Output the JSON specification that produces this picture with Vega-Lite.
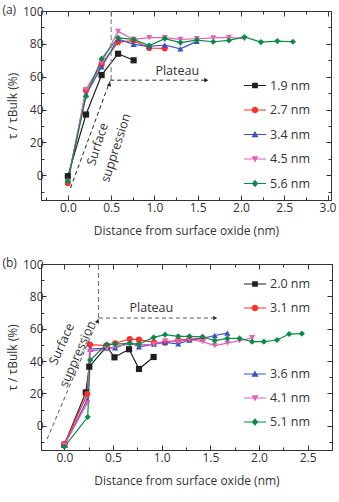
{
  "$schema": "https://vega.github.io/schema/vega-lite/v6.json",
  "padding": {"left": 1, "top": 3, "right": 0, "bottom": 2},
  "spacing": 19,
  "config": {
    "font": "Open Sans",
    "view": {"stroke": "#333333", "strokeWidth": 1},
    "axis": {"labelFont": "Open Sans", "labelFontSize": 12, "labelColor": "#333333", "titleFont": "Open Sans", "titleFontSize": 12, "titleFontWeight": "normal", "titleColor": "#333333", "domainColor": "#333333", "tickColor": "#333333", "grid": false, "labelOverlap": false, "labelFlush": false},
    "legend": {"labelFont": "Open Sans", "labelFontSize": 12.5, "labelColor": "#333333"},
    "title": {"font": "Open Sans", "fontSize": 12, "fontWeight": "normal", "color": "#333333"},
    "text": {"font": "Open Sans", "fontSize": 12.5, "color": "#333333"}
  },
  "datasets": {
    "a": [
      {"series": "1.9 nm", "x": 0, "y": -0.5}, {"series": "1.9 nm", "x": 0.21, "y": 37}, {"series": "1.9 nm", "x": 0.39, "y": 61}, {"series": "1.9 nm", "x": 0.58, "y": 74}, {"series": "1.9 nm", "x": 0.76, "y": 70},
      {"series": "2.7 nm", "x": 0, "y": -4.7}, {"series": "2.7 nm", "x": 0.21, "y": 51.8}, {"series": "2.7 nm", "x": 0.39, "y": 67.5}, {"series": "2.7 nm", "x": 0.58, "y": 81.1}, {"series": "2.7 nm", "x": 0.76, "y": 82}, {"series": "2.7 nm", "x": 0.94, "y": 77.5}, {"series": "2.7 nm", "x": 1.12, "y": 77.3},
      {"series": "3.4 nm", "x": 0, "y": -2.6}, {"series": "3.4 nm", "x": 0.21, "y": 49.2}, {"series": "3.4 nm", "x": 0.39, "y": 66}, {"series": "3.4 nm", "x": 0.58, "y": 83}, {"series": "3.4 nm", "x": 0.76, "y": 79.7}, {"series": "3.4 nm", "x": 0.94, "y": 78.5}, {"series": "3.4 nm", "x": 1.12, "y": 79.3}, {"series": "3.4 nm", "x": 1.3, "y": 77}, {"series": "3.4 nm", "x": 1.49, "y": 81.5},
      {"series": "4.5 nm", "x": 0, "y": -3.7}, {"series": "4.5 nm", "x": 0.21, "y": 52.2}, {"series": "4.5 nm", "x": 0.39, "y": 68.5}, {"series": "4.5 nm", "x": 0.58, "y": 87.6}, {"series": "4.5 nm", "x": 0.76, "y": 82.7}, {"series": "4.5 nm", "x": 0.94, "y": 83.8}, {"series": "4.5 nm", "x": 1.12, "y": 83.8}, {"series": "4.5 nm", "x": 1.3, "y": 82.7}, {"series": "4.5 nm", "x": 1.49, "y": 83.1}, {"series": "4.5 nm", "x": 1.68, "y": 83.6}, {"series": "4.5 nm", "x": 1.86, "y": 84}, {"series": "4.5 nm", "x": 2.04, "y": 83},
      {"series": "5.6 nm", "x": 0, "y": -3.5}, {"series": "5.6 nm", "x": 0.21, "y": 48.2}, {"series": "5.6 nm", "x": 0.39, "y": 70.9}, {"series": "5.6 nm", "x": 0.58, "y": 83.7}, {"series": "5.6 nm", "x": 0.76, "y": 82.7}, {"series": "5.6 nm", "x": 0.94, "y": 79}, {"series": "5.6 nm", "x": 1.12, "y": 83.2}, {"series": "5.6 nm", "x": 1.3, "y": 80.8}, {"series": "5.6 nm", "x": 1.49, "y": 82.3}, {"series": "5.6 nm", "x": 1.68, "y": 81.3}, {"series": "5.6 nm", "x": 1.86, "y": 82.1}, {"series": "5.6 nm", "x": 2.04, "y": 84.2}, {"series": "5.6 nm", "x": 2.23, "y": 81.1}, {"series": "5.6 nm", "x": 2.42, "y": 81.7}, {"series": "5.6 nm", "x": 2.6, "y": 81.3}
    ],
    "b": [
      {"series": "2.0 nm", "x": 0, "y": -11.8}, {"series": "2.0 nm", "x": 0.22, "y": 20.6}, {"series": "2.0 nm", "x": 0.256, "y": 36.5}, {"series": "2.0 nm", "x": 0.435, "y": 49}, {"series": "2.0 nm", "x": 0.515, "y": 42.3}, {"series": "2.0 nm", "x": 0.665, "y": 47.3}, {"series": "2.0 nm", "x": 0.767, "y": 35.1}, {"series": "2.0 nm", "x": 0.917, "y": 42.5},
      {"series": "3.1 nm", "x": 0, "y": -11.3}, {"series": "3.1 nm", "x": 0.235, "y": 19.6}, {"series": "3.1 nm", "x": 0.263, "y": 50.1}, {"series": "3.1 nm", "x": 0.437, "y": 49.5}, {"series": "3.1 nm", "x": 0.522, "y": 51}, {"series": "3.1 nm", "x": 0.672, "y": 53.6}, {"series": "3.1 nm", "x": 0.767, "y": 53.2}, {"series": "3.1 nm", "x": 0.92, "y": 51.5}, {"series": "3.1 nm", "x": 1.035, "y": 51.3}, {"series": "3.1 nm", "x": 1.17, "y": 53}, {"series": "3.1 nm", "x": 1.285, "y": 53.5}, {"series": "3.1 nm", "x": 1.42, "y": 54},
      {"series": "3.6 nm", "x": 0, "y": -12}, {"series": "3.6 nm", "x": 0.235, "y": 16}, {"series": "3.6 nm", "x": 0.265, "y": 47.4}, {"series": "3.6 nm", "x": 0.437, "y": 48}, {"series": "3.6 nm", "x": 0.522, "y": 48.2}, {"series": "3.6 nm", "x": 0.672, "y": 51.5}, {"series": "3.6 nm", "x": 0.767, "y": 48.8}, {"series": "3.6 nm", "x": 0.92, "y": 50.5}, {"series": "3.6 nm", "x": 1.035, "y": 51.5}, {"series": "3.6 nm", "x": 1.17, "y": 50.6}, {"series": "3.6 nm", "x": 1.285, "y": 53}, {"series": "3.6 nm", "x": 1.42, "y": 54}, {"series": "3.6 nm", "x": 1.545, "y": 55.8}, {"series": "3.6 nm", "x": 1.675, "y": 57.3},
      {"series": "4.1 nm", "x": 0, "y": -12}, {"series": "4.1 nm", "x": 0.235, "y": 14}, {"series": "4.1 nm", "x": 0.265, "y": 46}, {"series": "4.1 nm", "x": 0.437, "y": 47.5}, {"series": "4.1 nm", "x": 0.522, "y": 49}, {"series": "4.1 nm", "x": 0.672, "y": 50.5}, {"series": "4.1 nm", "x": 0.767, "y": 50}, {"series": "4.1 nm", "x": 0.92, "y": 50.3}, {"series": "4.1 nm", "x": 1.035, "y": 52.5}, {"series": "4.1 nm", "x": 1.17, "y": 52}, {"series": "4.1 nm", "x": 1.285, "y": 53.2}, {"series": "4.1 nm", "x": 1.42, "y": 52}, {"series": "4.1 nm", "x": 1.545, "y": 49.5}, {"series": "4.1 nm", "x": 1.675, "y": 51.1}, {"series": "4.1 nm", "x": 1.8, "y": 52.6}, {"series": "4.1 nm", "x": 1.93, "y": 54.4},
      {"series": "5.1 nm", "x": 0, "y": -13}, {"series": "5.1 nm", "x": 0.24, "y": 5.4}, {"series": "5.1 nm", "x": 0.265, "y": 40.6}, {"series": "5.1 nm", "x": 0.435, "y": 50.3}, {"series": "5.1 nm", "x": 0.522, "y": 50.5}, {"series": "5.1 nm", "x": 0.672, "y": 50.9}, {"series": "5.1 nm", "x": 0.767, "y": 50.5}, {"series": "5.1 nm", "x": 0.917, "y": 54.6}, {"series": "5.1 nm", "x": 1.035, "y": 56.3}, {"series": "5.1 nm", "x": 1.17, "y": 55.3}, {"series": "5.1 nm", "x": 1.285, "y": 55.3}, {"series": "5.1 nm", "x": 1.42, "y": 55}, {"series": "5.1 nm", "x": 1.545, "y": 52.6}, {"series": "5.1 nm", "x": 1.675, "y": 54}, {"series": "5.1 nm", "x": 1.8, "y": 54}, {"series": "5.1 nm", "x": 1.93, "y": 52}, {"series": "5.1 nm", "x": 2.05, "y": 52}, {"series": "5.1 nm", "x": 2.185, "y": 53}, {"series": "5.1 nm", "x": 2.31, "y": 56.7}, {"series": "5.1 nm", "x": 2.44, "y": 57}
    ]
  },
  "vconcat": [
    {
      "title": {"text": "(a)", "anchor": "start", "frame": "bounds", "offset": -11.5, "dx": -4},
      "width": 290,
      "height": 189,
      "resolve": {"scale": {"color": "independent", "shape": "independent"}, "axis": {"x": "independent", "y": "independent"}},
      "layer": [
        {
          "data": {"name": "a"},
          "mark": {"type": "line", "strokeWidth": 1.2},
          "encoding": {
            "x": {"field": "x", "type": "quantitative", "scale": {"domain": [-0.31, 3.04], "nice": false, "zero": false},
              "axis": {"orient": "bottom", "values": [-0.25, 0, 0.25, 0.5, 0.75, 1, 1.25, 1.5, 1.75, 2, 2.25, 2.5, 2.75, 3], "labelExpr": "datum.value % 0.5 === 0 ? format(datum.value, '.1f') : ''", "tickSize": {"condition": {"test": "datum.value % 0.5 === 0", "value": -5}, "value": -3}, "labelPadding": 7, "titlePadding": 10, "title": "Distance from surface oxide (nm)"}},
            "y": {"field": "y", "type": "quantitative", "scale": {"domain": [-15, 100], "nice": false, "zero": false},
              "axis": {"orient": "left", "values": [-10, 0, 10, 20, 30, 40, 50, 60, 70, 80, 90, 100], "labelExpr": "datum.value % 20 === 0 ? datum.label : ''", "tickSize": {"condition": {"test": "datum.value % 20 === 0", "value": -5}, "value": -3}, "labelPadding": 3, "titlePadding": 3, "title": "τ / τBulk (%)"}},
            "color": {"field": "series", "type": "nominal", "scale": {"domain": ["1.9 nm", "2.7 nm", "3.4 nm", "4.5 nm", "5.6 nm"], "range": ["#1f1f1f", "#ff3030", "#3a52c0", "#e064b4", "#0a8a48"]}, "legend": null}
          }
        },
        {
          "data": {"name": "a"},
          "mark": {"type": "point", "filled": true, "opacity": 1, "size": 38},
          "encoding": {
            "x": {"field": "x", "type": "quantitative", "axis": {"orient": "top", "values": [-0.25, 0, 0.25, 0.5, 0.75, 1, 1.25, 1.5, 1.75, 2, 2.25, 2.5, 2.75, 3], "labels": false, "title": null, "domain": false, "tickSize": {"condition": {"test": "datum.value % 0.5 === 0", "value": -5}, "value": -3}}},
            "y": {"field": "y", "type": "quantitative", "axis": {"orient": "right", "values": [-10, 0, 10, 20, 30, 40, 50, 60, 70, 80, 90, 100], "labels": false, "title": null, "domain": false, "tickSize": {"condition": {"test": "datum.value % 20 === 0", "value": -5}, "value": -3}}},
            "color": {"field": "series", "type": "nominal", "scale": {"domain": ["1.9 nm", "2.7 nm", "3.4 nm", "4.5 nm", "5.6 nm"], "range": ["#1f1f1f", "#ff3030", "#3a52c0", "#e064b4", "#0a8a48"]}, "legend": null},
            "shape": {"field": "series", "type": "nominal", "scale": {"domain": ["1.9 nm", "2.7 nm", "3.4 nm", "4.5 nm", "5.6 nm"], "range": ["square", "circle", "triangle-up", "triangle-down", "diamond"]}, "legend": null}
          }
        },
        {
          "data": {"name": "a"},
          "transform": [{"filter": "false"}],
          "mark": {"type": "point", "filled": true, "opacity": 1, "size": 484},
          "encoding": {
            "color": {"field": "series", "type": "nominal", "scale": {"domain": ["1.9 nm", "2.7 nm", "3.4 nm", "4.5 nm", "5.6 nm"], "range": ["#1f1f1f", "#ff3030", "#3a52c0", "#e064b4", "#0a8a48"]},
              "legend": {"orient": "none", "legendX": 203, "legendY": 63.5, "title": null, "symbolSize": 484, "symbolStrokeWidth": 0, "labelOffset": 4, "rowPadding": 2.5, "padding": 0}},
            "shape": {"field": "series", "type": "nominal", "scale": {"domain": ["1.9 nm", "2.7 nm", "3.4 nm", "4.5 nm", "5.6 nm"], "range": [
              "M0,-1L0,1ZM-1,-0.05H1V0.05H-1ZM-0.26,-0.26H0.26V0.26H-0.26Z",
              "M0,-1L0,1ZM-1,-0.05H1V0.05H-1ZM-0.3,0A0.3,0.3 0 1,1 0.3,0A0.3,0.3 0 1,1 -0.3,0Z",
              "M0,-1L0,1ZM-1,-0.05H1V0.05H-1ZM0,-0.32L0.32,0.24L-0.32,0.24Z",
              "M0,-1L0,1ZM-1,-0.05H1V0.05H-1ZM0,0.32L-0.32,-0.24L0.32,-0.24Z",
              "M0,-1L0,1ZM-1,-0.05H1V0.05H-1ZM0,-0.34L0.3,0L0,0.34L-0.3,0Z"]},
              "legend": {"orient": "none", "legendX": 203, "legendY": 63.5, "title": null, "symbolSize": 484, "symbolStrokeWidth": 0, "labelOffset": 4, "rowPadding": 2.5, "padding": 0}}
          }
        },
        {
          "data": {"values": [{"x": 0.5, "y": 58, "y2": 100}]},
          "mark": {"type": "rule", "color": "#888888", "strokeWidth": 1.2, "strokeDash": [5, 3]},
          "encoding": {"x": {"field": "x", "type": "quantitative", "axis": null}, "y": {"field": "y", "type": "quantitative", "axis": null}, "y2": {"field": "y2"}}
        },
        {
          "data": {"values": [{"g": "d", "x": 0.031, "y": -7.7}, {"g": "d", "x": 0.486, "y": 57.3}, {"g": "h", "x": 0.49, "y": 57.9}, {"g": "h", "x": 1.6, "y": 57.9}]},
          "mark": {"type": "line", "color": "#222222", "strokeWidth": 1, "strokeDash": [4, 3]},
          "encoding": {"x": {"field": "x", "type": "quantitative", "axis": null}, "y": {"field": "y", "type": "quantitative", "axis": null}, "detail": {"field": "g"}}
        },
        {
          "data": {"values": [{"x": 0.482, "y": 55.5}]},
          "mark": {"type": "point", "shape": "triangle-up", "filled": true, "color": "#222222", "opacity": 1, "size": 22, "angle": 20},
          "encoding": {"x": {"field": "x", "type": "quantitative", "axis": null}, "y": {"field": "y", "type": "quantitative", "axis": null}}
        },
        {
          "data": {"values": [{"x": 1.6, "y": 57.9}]},
          "mark": {"type": "point", "shape": "triangle-right", "filled": true, "color": "#222222", "opacity": 1, "size": 22},
          "encoding": {"x": {"field": "x", "type": "quantitative", "axis": null}, "y": {"field": "y", "type": "quantitative", "axis": null}}
        },
        {
          "data": {"values": [{"x": 1.264, "y": 63.4, "t": "Plateau"}]},
          "mark": {"type": "text"},
          "encoding": {"x": {"field": "x", "type": "quantitative", "axis": null}, "y": {"field": "y", "type": "quantitative", "axis": null}, "text": {"field": "t"}}
        },
        {
          "data": {"values": [{"x": 0.345, "y": 19, "t": "Surface"}, {"x": 0.555, "y": 16.7, "t": "suppression"}]},
          "mark": {"type": "text", "angle": -72},
          "encoding": {"x": {"field": "x", "type": "quantitative", "axis": null}, "y": {"field": "y", "type": "quantitative", "axis": null}, "text": {"field": "t"}}
        }
      ]
    },
    {
      "title": {"text": "(b)", "anchor": "start", "frame": "bounds", "offset": -11.5, "dx": -4},
      "width": 291,
      "height": 186,
      "resolve": {"scale": {"color": "independent", "shape": "independent"}, "axis": {"x": "independent", "y": "independent"}},
      "layer": [
        {
          "data": {"name": "b"},
          "mark": {"type": "line", "strokeWidth": 1.2},
          "encoding": {
            "x": {"field": "x", "type": "quantitative", "scale": {"domain": [-0.24, 2.75], "nice": false, "zero": false},
              "axis": {"orient": "bottom", "values": [0, 0.25, 0.5, 0.75, 1, 1.25, 1.5, 1.75, 2, 2.25, 2.5, 2.75], "labelExpr": "datum.value % 0.5 === 0 ? format(datum.value, '.1f') : ''", "tickSize": {"condition": {"test": "datum.value % 0.5 === 0", "value": -5}, "value": -3}, "labelPadding": 7, "titlePadding": 10, "title": "Distance from surface oxide (nm)"}},
            "y": {"field": "y", "type": "quantitative", "scale": {"domain": [-15, 100], "nice": false, "zero": false},
              "axis": {"orient": "left", "values": [-10, 0, 10, 20, 30, 40, 50, 60, 70, 80, 90, 100], "labelExpr": "datum.value % 20 === 0 ? datum.label : ''", "tickSize": {"condition": {"test": "datum.value % 20 === 0", "value": -5}, "value": -3}, "labelPadding": 3, "titlePadding": 3, "title": "τ / τBulk (%)"}},
            "color": {"field": "series", "type": "nominal", "scale": {"domain": ["2.0 nm", "3.1 nm", "3.6 nm", "4.1 nm", "5.1 nm"], "range": ["#1f1f1f", "#ff3030", "#3a52c0", "#e064b4", "#0a8a48"]}, "legend": null}
          }
        },
        {
          "data": {"name": "b"},
          "mark": {"type": "point", "filled": true, "opacity": 1, "size": 38},
          "encoding": {
            "x": {"field": "x", "type": "quantitative", "axis": {"orient": "top", "values": [0, 0.25, 0.5, 0.75, 1, 1.25, 1.5, 1.75, 2, 2.25, 2.5, 2.75], "labels": false, "title": null, "domain": false, "tickSize": {"condition": {"test": "datum.value % 0.5 === 0", "value": -5}, "value": -3}}},
            "y": {"field": "y", "type": "quantitative", "axis": {"orient": "right", "values": [-10, 0, 10, 20, 30, 40, 50, 60, 70, 80, 90, 100], "labels": false, "title": null, "domain": false, "tickSize": {"condition": {"test": "datum.value % 20 === 0", "value": -5}, "value": -3}}},
            "color": {"field": "series", "type": "nominal", "scale": {"domain": ["2.0 nm", "3.1 nm", "3.6 nm", "4.1 nm", "5.1 nm"], "range": ["#1f1f1f", "#ff3030", "#3a52c0", "#e064b4", "#0a8a48"]}, "legend": null},
            "shape": {"field": "series", "type": "nominal", "scale": {"domain": ["2.0 nm", "3.1 nm", "3.6 nm", "4.1 nm", "5.1 nm"], "range": ["square", "circle", "triangle-up", "triangle-down", "diamond"]}, "legend": null}
          }
        },
        {
          "data": {"name": "b"},
          "transform": [{"filter": "false"}],
          "mark": {"type": "point", "filled": true, "opacity": 1, "size": 484},
          "encoding": {
            "color": {"field": "series", "type": "nominal", "scale": {"domain": ["2.0 nm", "3.1 nm"], "range": ["#1f1f1f", "#ff3030"]},
              "legend": {"orient": "none", "legendX": 203, "legendY": 9, "title": null, "symbolSize": 484, "symbolStrokeWidth": 0, "labelOffset": 4, "rowPadding": 2, "padding": 0}},
            "shape": {"field": "series", "type": "nominal", "scale": {"domain": ["2.0 nm", "3.1 nm"], "range": [
              "M0,-1L0,1ZM-1,-0.05H1V0.05H-1ZM-0.26,-0.26H0.26V0.26H-0.26Z",
              "M0,-1L0,1ZM-1,-0.05H1V0.05H-1ZM-0.3,0A0.3,0.3 0 1,1 0.3,0A0.3,0.3 0 1,1 -0.3,0Z"]},
              "legend": {"orient": "none", "legendX": 203, "legendY": 9, "title": null, "symbolSize": 484, "symbolStrokeWidth": 0, "labelOffset": 4, "rowPadding": 2, "padding": 0}}
          }
        },
        {
          "data": {"name": "b"},
          "transform": [{"filter": "false"}],
          "mark": {"type": "point", "filled": true, "opacity": 1, "size": 484},
          "encoding": {
            "color": {"field": "series", "type": "nominal", "scale": {"domain": ["3.6 nm", "4.1 nm", "5.1 nm"], "range": ["#3a52c0", "#e064b4", "#0a8a48"]},
              "legend": {"orient": "none", "legendX": 203, "legendY": 99, "title": null, "symbolSize": 484, "symbolStrokeWidth": 0, "labelOffset": 4, "rowPadding": 2, "padding": 0}},
            "shape": {"field": "series", "type": "nominal", "scale": {"domain": ["3.6 nm", "4.1 nm", "5.1 nm"], "range": [
              "M0,-1L0,1ZM-1,-0.05H1V0.05H-1ZM0,-0.32L0.32,0.24L-0.32,0.24Z",
              "M0,-1L0,1ZM-1,-0.05H1V0.05H-1ZM0,0.32L-0.32,-0.24L0.32,-0.24Z",
              "M0,-1L0,1ZM-1,-0.05H1V0.05H-1ZM0,-0.34L0.3,0L0,0.34L-0.3,0Z"]},
              "legend": {"orient": "none", "legendX": 203, "legendY": 99, "title": null, "symbolSize": 484, "symbolStrokeWidth": 0, "labelOffset": 4, "rowPadding": 2, "padding": 0}}
          }
        },
        {
          "data": {"values": [{"x": 0.351, "y": 66.6, "y2": 100}]},
          "mark": {"type": "rule", "color": "#777777", "strokeWidth": 1.2, "strokeDash": [5, 3]},
          "encoding": {"x": {"field": "x", "type": "quantitative", "axis": null}, "y": {"field": "y", "type": "quantitative", "axis": null}, "y2": {"field": "y2"}}
        },
        {
          "data": {"values": [{"g": "d", "x": -0.177, "y": -8.2}, {"g": "d", "x": 0.345, "y": 65.8}, {"g": "h", "x": 0.355, "y": 66.6}, {"g": "h", "x": 1.55, "y": 66.6}]},
          "mark": {"type": "line", "color": "#555555", "strokeWidth": 1, "strokeDash": [4, 3]},
          "encoding": {"x": {"field": "x", "type": "quantitative", "axis": null}, "y": {"field": "y", "type": "quantitative", "axis": null}, "detail": {"field": "g"}}
        },
        {
          "data": {"values": [{"x": 0.343, "y": 64.8}]},
          "mark": {"type": "point", "shape": "triangle-up", "filled": true, "color": "#333333", "opacity": 1, "size": 22, "angle": 23},
          "encoding": {"x": {"field": "x", "type": "quantitative", "axis": null}, "y": {"field": "y", "type": "quantitative", "axis": null}}
        },
        {
          "data": {"values": [{"x": 1.55, "y": 66.6}]},
          "mark": {"type": "point", "shape": "triangle-right", "filled": true, "color": "#333333", "opacity": 1, "size": 22},
          "encoding": {"x": {"field": "x", "type": "quantitative", "axis": null}, "y": {"field": "y", "type": "quantitative", "axis": null}}
        },
        {
          "data": {"values": [{"x": 0.894, "y": 72.6, "t": "Plateau"}]},
          "mark": {"type": "text"},
          "encoding": {"x": {"field": "x", "type": "quantitative", "axis": null}, "y": {"field": "y", "type": "quantitative", "axis": null}, "text": {"field": "t"}}
        },
        {
          "data": {"values": [{"x": -0.027, "y": 50.5, "t": "Surface"}, {"x": 0.136, "y": 44.3, "t": "suppression"}]},
          "mark": {"type": "text", "angle": -66},
          "encoding": {"x": {"field": "x", "type": "quantitative", "axis": null}, "y": {"field": "y", "type": "quantitative", "axis": null}, "text": {"field": "t"}}
        }
      ]
    }
  ]
}
